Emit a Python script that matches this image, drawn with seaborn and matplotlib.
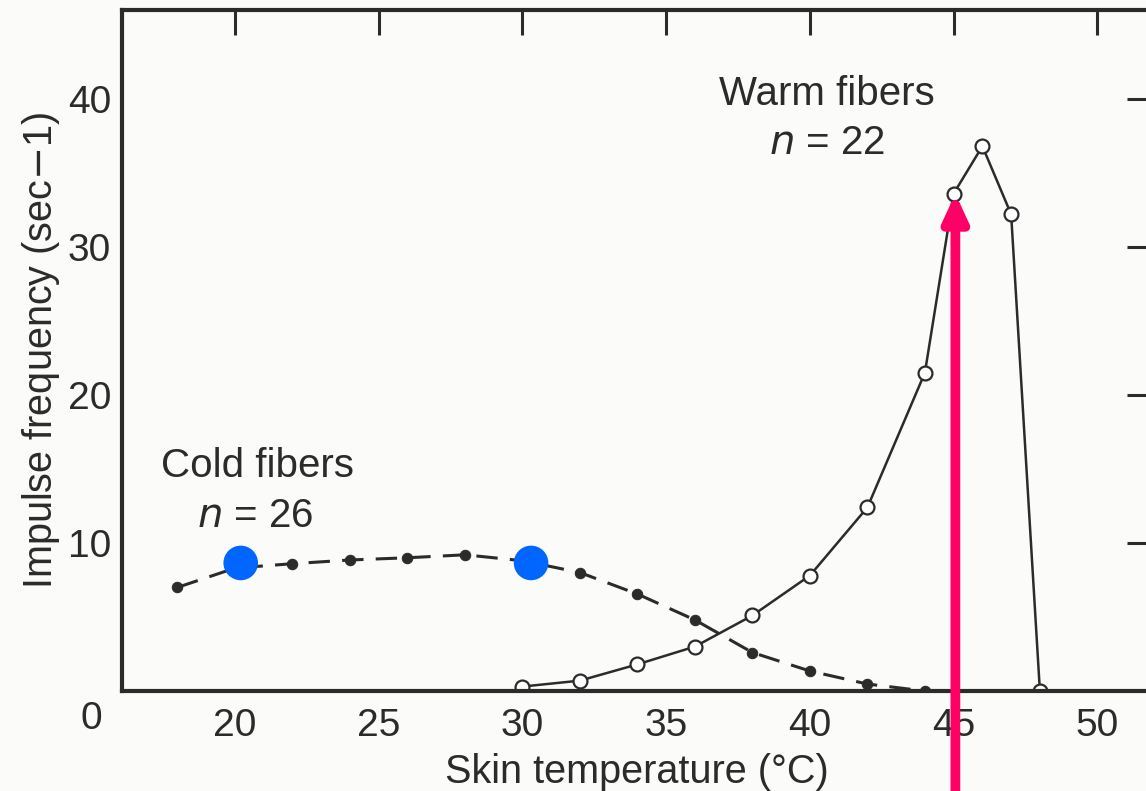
import matplotlib
matplotlib.use("Agg")
import matplotlib.pyplot as plt
import seaborn as sns
import pandas as pd

# Data
cold_temp = [18, 20, 22, 24, 26, 28, 30, 32, 34, 36, 38, 40, 42, 44]
cold_freq = [7.0, 8.3, 8.6, 8.85, 9.0, 9.2, 8.8, 8.0, 6.55, 4.8, 2.6, 1.35, 0.47, 0.0]
warm_temp = [30, 32, 34, 36, 38, 40, 42, 44, 45, 46, 47, 48]
warm_freq = [0.3, 0.7, 1.8, 3.0, 5.1, 7.8, 12.4, 21.5, 33.6, 36.8, 32.2, 0.0]
highlight_temp = [20.2, 30.3]
highlight_freq = [8.65, 8.65]
arrow_temp = 45.06
arrow_tip = 33.6
x_ticks = [20, 25, 30, 35, 40, 45, 50]
y_ticks = [10, 20, 30, 40]

cold = pd.DataFrame({"t": cold_temp, "f": cold_freq})
warm = pd.DataFrame({"t": warm_temp, "f": warm_freq})
hl = pd.DataFrame({"t": highlight_temp, "f": highlight_freq})

sns.set_theme(style="white")
plt.rcParams["font.family"] = ["Liberation Sans", "DejaVu Sans"]
ink = "#2b2b2b"

fig = plt.figure(figsize=(11.46, 7.91), dpi=100)
fig.patch.set_facecolor("#fbfbf9")
ax = fig.add_axes([122 / 1146, 1 - 691 / 791, 1030 / 1146, 681 / 791])
ax.set_facecolor("#fbfbf9")

sns.lineplot(data=cold, x="t", y="f", ax=ax, color=ink, lw=2.2,
             linestyle=(0, (7, 4)), marker="o", markersize=7.5,
             markerfacecolor=ink, markeredgecolor=ink)
sns.lineplot(data=warm, x="t", y="f", ax=ax, color=ink, lw=1.8,
             marker="o", markersize=10, markerfacecolor="white",
             markeredgecolor=ink, markeredgewidth=1.6)
sns.scatterplot(data=hl, x="t", y="f", ax=ax, color="#0066ff", s=620,
                edgecolor="none", zorder=5)

ax.annotate("", xy=(arrow_temp, arrow_tip), xytext=(arrow_temp, -7.0),
            arrowprops=dict(arrowstyle="-|>,head_length=1.3,head_width=0.6",
                            color="#ff0066", lw=7, shrinkA=0, shrinkB=0),
            annotation_clip=False, zorder=6)

ax.set_xlim(16.07, 51.9)
ax.set_ylim(0, 46.0)
ax.set_xticks(x_ticks)
ax.set_yticks(y_ticks)
ax.tick_params(axis="both", direction="in", length=18, width=2.2,
               colors=ink, labelsize=28, top=True, right=True,
               labeltop=False, labelright=False)
ax.tick_params(axis="x", pad=12)
ax.tick_params(axis="y", pad=8)
for s in ax.spines.values():
    s.set_visible(True)
    s.set_color(ink)
    s.set_linewidth(3)

ax.set_xlabel("Skin temperature (°C)", fontsize=28.5, color=ink, labelpad=7)
ax.set_ylabel("Impulse frequency (sec$-$1)", fontsize=28.5, color=ink, labelpad=4)
ax.text(15.0, -1.9, "0", fontsize=28, color=ink, ha="center", va="center",
        clip_on=False)

ax.text(40.6, 40.3, "Warm fibers", fontsize=29, color=ink, ha="center", va="center")
ax.text(40.6, 37.0, "$n$ = 22", fontsize=29, color=ink, ha="center", va="center")
ax.text(20.8, 15.2, "Cold fibers", fontsize=29, color=ink, ha="center", va="center")
ax.text(20.7, 11.8, "$n$ = 26", fontsize=29, color=ink, ha="center", va="center")

fig.savefig("out.png", dpi=100, facecolor=fig.get_facecolor())
